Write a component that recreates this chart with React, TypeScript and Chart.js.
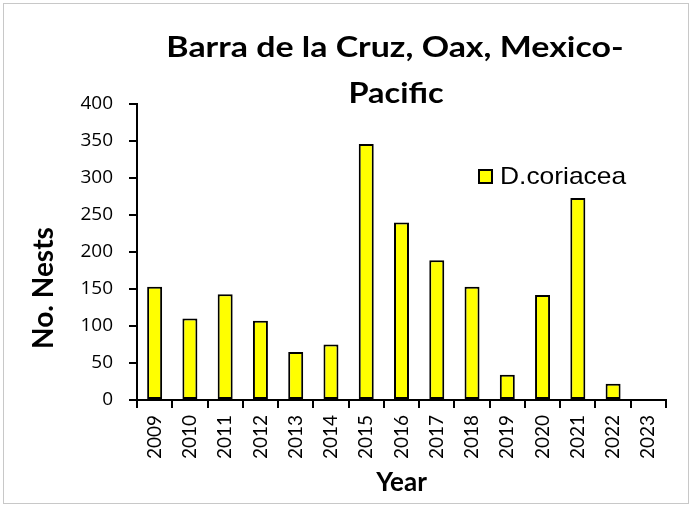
import React, { useEffect, useRef } from "react";
import { Chart, registerables } from "chart.js";

Chart.register(...registerables);

const years = ["2009", "2010", "2011", "2012", "2013", "2014", "2015", "2016", "2017", "2018", "2019", "2020", "2021", "2022", "2023"];
const nests: (number | null)[] = [153, 110, 143, 107, 65, 75, 346, 240, 189, 153, 34, 142, 273, 22, null];
const seriesName = "D.coriacea";
const titleLines = ["Barra de la Cruz, Oax, Mexico-", "Pacific"];
const yTitle = "No. Nests";
const xTitle = "Year";

const W = 692;
const H = 506;

function stretchedText(ctx: any, text: string, x: number, y: number, sx: number) {
  ctx.save();
  ctx.translate(x, y);
  ctx.scale(sx, 1);
  ctx.fillText(text, 0, 0);
  ctx.restore();
}

const decor = {
  id: "decor",
  afterDraw(chart: any) {
    const ctx = chart.ctx;
    const area = chart.chartArea;
    ctx.save();
    // outer border
    ctx.strokeStyle = "#c8c8c8";
    ctx.lineWidth = 1;
    ctx.strokeRect(3.5, 3.5, W - 7, H - 6);
    // title
    ctx.fillStyle = "#000";
    ctx.font = "bold 29px Lato";
    ctx.textAlign = "center";
    ctx.textBaseline = "alphabetic";
    stretchedText(ctx, titleLines[0], 395, 57, 1.17);
    stretchedText(ctx, titleLines[1], 396, 103, 1.12);
    // y title
    ctx.save();
    ctx.translate(53, 288);
    ctx.rotate(-Math.PI / 2);
    ctx.font = "bold 28px Lato";
    ctx.textAlign = "center";
    ctx.textBaseline = "alphabetic";
    ctx.fillText(yTitle, 0, 0);
    ctx.restore();
    // legend
    const lx = area.left + 342;
    const ly = 170;
    ctx.fillStyle = "#ffff00";
    ctx.fillRect(lx, ly, 13, 13);
    ctx.strokeStyle = "#000";
    ctx.lineWidth = 2;
    ctx.strokeRect(lx, ly, 13, 13);
    ctx.fillStyle = "#000";
    ctx.font = "24px 'Liberation Sans'";
    ctx.textAlign = "left";
    ctx.textBaseline = "middle";
    stretchedText(ctx, seriesName, lx + 21, ly + 7.5, 1.1);
    ctx.restore();
  },
};

export default function App() {
  const ref = useRef<HTMLCanvasElement | null>(null);
  useEffect(() => {
    document.body.style.margin = "0";
    const canvas = ref.current!;
    const chart = new Chart(canvas, {
      type: "bar",
      data: {
        labels: years,
        datasets: [
          {
            label: seriesName,
            data: nests,
            backgroundColor: "#ffff00",
            borderColor: "#000000",
            borderWidth: 2,
            borderSkipped: false,
            barPercentage: 0.425,
            categoryPercentage: 1,
          },
        ],
      },
      options: {
        responsive: false,
        animation: false,
        devicePixelRatio: 1,
        layout: { padding: { top: 104, left: 10, right: 26, bottom: 6 } },
        plugins: {
          legend: { display: false },
          title: { display: false },
          tooltip: { enabled: false },
        },
        scales: {
          x: {
            type: "category",
            offset: true,
            grid: { display: true, drawOnChartArea: false, offset: true, color: "#000", lineWidth: 2, tickLength: 8 },
            border: { display: true, color: "#000", width: 2 },
            ticks: {
              minRotation: 90,
              maxRotation: 90,
              padding: 7,
              color: "#000",
              font: { family: "Lato", size: 19 },
            },
            title: {
              display: true,
              text: xTitle,
              color: "#000",
              font: { family: "Lato", size: 26, weight: "bold" },
              padding: { top: 0, bottom: 2 },
            },
            afterFit(scale: any) {
              scale.height = 100;
            },
          },
          y: {
            min: 0,
            max: 400,
            grid: { display: true, drawOnChartArea: false, color: "#000", lineWidth: 2, tickLength: 8 },
            border: { display: true, color: "#000", width: 2 },
            ticks: {
              stepSize: 50,
              padding: 16,
              color: "#000",
              font: { family: "Open Sans", size: 19 },
            },
            afterFit(scale: any) {
              scale.width = 127;
            },
          },
        },
      },
      plugins: [decor],
    });
    return () => chart.destroy();
  }, []);
  return (
    <div style={{ width: W, height: H }}>
      <canvas ref={ref} width={W} height={H} style={{ display: "block", width: W, height: H }} />
    </div>
  );
}
